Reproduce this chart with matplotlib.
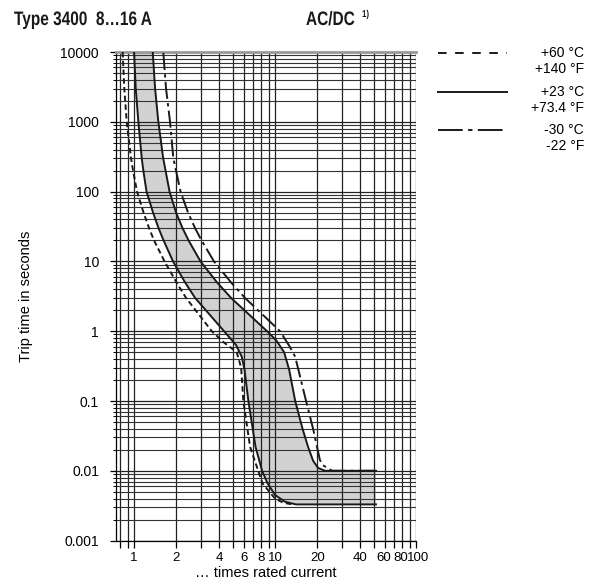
import numpy as np
import matplotlib
matplotlib.use('Agg')
import matplotlib.pyplot as plt
from matplotlib.lines import Line2D
from matplotlib.textpath import TextPath
from matplotlib.patches import PathPatch
from matplotlib.font_manager import FontProperties
from matplotlib.transforms import Affine2D, IdentityTransform, ScaledTranslation

plt.rcParams['font.family'] = ['Liberation Sans', 'DejaVu Sans']

# +23 °C band, lower (fast) edge
lo23_x = [1.0, 1.028, 1.073, 1.134, 1.164, 1.226, 1.364, 1.492, 1.619, 1.891, 2.30, 2.71, 4.35,
          5.29, 5.81, 6.08, 6.47, 7.27, 8.09, 8.85, 10.0, 11.78, 14.09, 52]
lo23_t = [10000, 3000, 1000, 300, 200, 100, 50, 30, 20, 10, 5, 3, 1,
          0.634, 0.43, 0.278, 0.1, 0.0221, 0.01, 0.0066, 0.0045, 0.0036, 0.0033, 0.0033]
# +23 °C band, upper (slow) edge
hi23_x = [1.357, 1.41, 1.487, 1.61, 1.673, 1.786, 1.986, 2.208, 2.435, 2.962, 3.88, 4.875, 8.78,
          10.2, 11.6, 12.6, 13.9, 15.67, 17.14, 18.6, 20.18, 22.63, 52]
hi23_t = [10000, 3000, 1000, 300, 200, 100, 50, 30, 20, 10, 5, 3, 1,
          0.74, 0.5, 0.28, 0.1, 0.04, 0.0221, 0.014, 0.011, 0.01, 0.01]
# +60 °C lower edge
lo60_x = [0.83, 0.853, 0.887, 0.952, 0.984, 1.05, 1.168, 1.278, 1.386, 1.645, 2.00, 2.338, 3.56,
          4.3, 5.35, 5.75, 5.96, 6.65, 8.15, 10.0, 11.4, 13.2]
lo60_t = [10000, 3000, 1000, 300, 200, 100, 50, 30, 20, 10, 5, 3, 1,
          0.7, 0.5, 0.3, 0.1, 0.0221, 0.0066, 0.004, 0.0035, 0.0033]
# -30 °C upper edge
hi30_x = [1.614, 1.686, 1.80, 1.90, 1.986, 2.137, 2.415, 2.708, 3.011, 3.69, 4.875, 6.12, 10.85,
          12.6, 13.9, 16.6, 18.7, 20.8, 21.9, 25.4, 52]
hi30_t = [9700, 3000, 1000, 300, 200, 100, 50, 30, 20, 10, 5, 3, 1,
          0.62, 0.43, 0.1, 0.0385, 0.0143, 0.012, 0.01, 0.01]

xticks = [0.8, 0.9, 1, 2, 3, 4, 5, 6, 7, 8, 9, 10, 20, 30, 40, 50, 60, 70, 80, 90, 100]
xlabels = ['', '', '1', '2', '', '4', '', '6', '', '8', '', '10', '20', '', '40', '', '60', '', '80', '', '100']
yticks = [0.001, 0.01, 0.1, 1, 10, 100, 1000, 10000]
ylabels = ['0.001', '0.01', '0.1', '1', '10', '100', '1000', '10000']

fig = plt.figure(figsize=(5.95, 5.85), dpi=100)
ax = fig.add_axes([0.1943, 0.0759, 0.5049, 0.8352])
ax.set_xscale('log')
ax.set_yscale('log')
ax.set_xlim(0.74, 100)
ax.set_ylim(0.001, 10000)

# grey band for +23 °C
ax.fill(np.concatenate([lo23_x, hi23_x[::-1]]), np.concatenate([lo23_t, hi23_t[::-1]]),
        color='#d2d2d2', lw=0, zorder=0.2)

ax.set_axisbelow(True)
ax.grid(True, which='major', color='#222222', lw=0.9)
ax.grid(True, which='minor', color='#333333', lw=0.8)

lw = 1.4
ax.plot(lo23_x, lo23_t, color='#1a1a1a', lw=lw, zorder=3)
ax.plot(hi23_x, hi23_t, color='#1a1a1a', lw=lw, zorder=3)
ax.plot(lo60_x, lo60_t, color='#1a1a1a', lw=lw, ls=(0, (2.8, 1.7)), zorder=3)
ax.plot(hi30_x, hi30_t, color='#1a1a1a', lw=lw, ls=(0, (8.8, 2.2, 1.7, 2.2)), zorder=3)

ax.set_xticks(xticks)
ax.set_xticklabels(xlabels)
ax.xaxis.set_minor_locator(matplotlib.ticker.NullLocator())
ax.set_yticks(yticks)
ax.set_yticklabels(ylabels)
ax.tick_params(axis='x', which='major', length=5, width=0.9, labelsize=9.5, pad=3)
ax.tick_params(axis='y', which='major', length=4, width=0.9, labelsize=10, pad=8)
ax.tick_params(axis='y', which='minor', length=2.5, width=0.7)
ax.yaxis.set_minor_formatter(matplotlib.ticker.NullFormatter())

# nudge the crowded labels at the right end
for lab in ax.get_xticklabels():
    dx = {'60': -1, '80': -2, '100': 2.5}.get(lab.get_text(), 0)
    if dx:
        lab.set_transform(lab.get_transform() + ScaledTranslation(dx / 100, 0, fig.dpi_scale_trans))

ax.spines['right'].set_visible(False)
ax.spines['top'].set_color('#999999')
ax.spines['top'].set_linewidth(2)
ax.spines['left'].set_linewidth(0.9)
ax.spines['bottom'].set_linewidth(0.9)

ax.set_xlabel('… times rated current', fontsize=10.5, labelpad=2)
ax.set_ylabel('Trip time in seconds', fontsize=10.5, labelpad=20)


def narrow_text(s, x, y, size, sx=0.79):
    # bold condensed heading, pixel coords from top-left
    tp = TextPath((0, 0), s, size=size, prop=FontProperties(family='Liberation Sans', weight='bold'))
    tr = Affine2D().scale(sx, 1).translate(x, 585 - y)
    fig.add_artist(PathPatch(tp, transform=tr + IdentityTransform(), color='#1a1a1a', lw=0))


narrow_text('Type 3400  8…16 A', 14, 25, 19.5)
narrow_text('AC/DC', 306, 25, 19.5)
narrow_text('1)', 362, 17, 10)

# legend drawn by hand
leg = [((0, (4.4, 4.4)), 53, '+60 °C', '+140 °F'),
       ('-', 92, '+23 °C', '+73.4 °F'),
       ((0, (12.7, 2.8, 2.2, 2.8)), 130, '-30 °C', '-22 °F')]
for ls, ypx, t1, t2 in leg:
    yf = 1 - ypx / 585
    fig.add_artist(Line2D([438/595, 507/595], [yf, yf], color='#1a1a1a', lw=lw, ls=ls))
    fig.text(584/595, yf, t1, fontsize=10, ha='right', va='center')
    fig.text(584/595, 1 - (ypx + 16) / 585, t2, fontsize=10, ha='right', va='center')

fig.savefig('out.png', dpi=100)
